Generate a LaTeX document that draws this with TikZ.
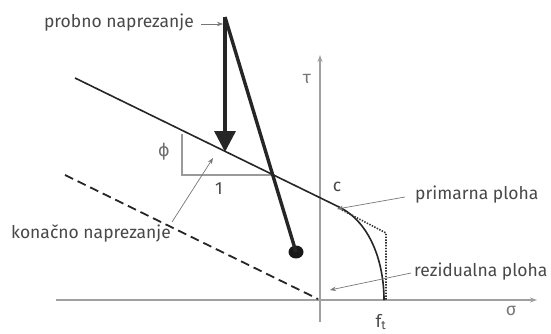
\documentclass[tikz,border=0pt]{standalone}
\usepackage{fontspec}
\setmainfont{Fira Sans}
\newfontfamily\dejavu{DejaVu Sans}
\usetikzlibrary{arrows.meta,shapes.geometric}
\definecolor{txt}{HTML}{484848}
\definecolor{axisgray}{HTML}{A0A0A0}
\definecolor{tri}{HTML}{9A9A9A}
\begin{document}
\begin{tikzpicture}[x=1pt,y=-1pt,
  lbl/.style={text=txt,font=\fontsize{17.5}{20}\selectfont,inner sep=0pt},
  axisline/.style={draw=axisgray,line width=1.2pt},
  pointer/.style={draw=txt!75,line width=0.7pt,-{Stealth[length=6pt,width=4.5pt]}},
  heavy/.style={line width=3.4pt,draw=black!85},
  envelope/.style={line width=1.6pt,draw=black!85}]
\useasboundingbox (0,0) rectangle (551,333);
% axes
\coordinate (xs) at (56,300);
\coordinate (xe) at (537,300);
\coordinate (ys) at (320,322);
\coordinate (ye) at (320,55);
\draw[axisline,-{Stealth[length=7pt,width=5pt]}] (xs) -- (xe);
\draw[axisline,-{Stealth[length=7pt,width=5pt]}] (ys) -- (ye);
\node[lbl,text=txt!75] (tau) at (307,79) {τ};
\node[lbl,text=txt!75] (sig) at (511,311) {σ};
\node[lbl] (ft) at (381,322) {f\textsubscript{t}};
% slope triangle
\coordinate (ta) at (182,134);
\coordinate (tb) at (182,175);
\coordinate (tc) at (272,175);
\draw[draw=tri,line width=1.4pt] (ta) -- (tb) -- (tc);
\node[lbl,text=txt!80] (phi) at (164,152) {\dejavu ϕ};
\node[lbl] (one) at (219,189) {1};
% envelopes
\coordinate (m0) at (75,78);
\coordinate (mc) at (339,207);
\coordinate (mf) at (384,300);
\draw[envelope] (m0) -- (mc) .. controls (370,222) and (384,262) .. (mf);
\coordinate (d1) at (342,210);
\coordinate (d2) at (386,233);
\coordinate (d3) at (386,300);
\draw[line width=1.6pt,draw=black!80,dash pattern=on 1.4pt off 1.4pt] (d1) -- (d2) -- (d3);
\coordinate (r0) at (65,175);
\coordinate (r1) at (318,299);
\draw[line width=1.8pt,draw=black!85,dash pattern=on 9pt off 5pt] (r0) -- (r1);
% stress path
\coordinate (top) at (225,17);
\coordinate (tip) at (225,152);
\node[ellipse,fill=black!90,minimum width=15pt,minimum height=13pt,inner sep=0pt] (dot) at (296,252) {};
\draw[heavy,-{Triangle[length=21pt,width=21pt]}] (top) -- (tip);
\draw[heavy] (top) -- (dot.center);
% labels
\node[lbl,anchor=east] (probno) at (194,23) {probno naprezanje};
\coordinate (p0) at (201,24);
\draw[pointer] (p0) -- (223,24);
\node[lbl,anchor=west] (konac) at (11,233) {konačno naprezanje};
\draw[pointer] (172,222) -- (213,158);
\node[lbl] (c) at (337,187) {c};
\node[lbl,anchor=west] (prim) at (415,195) {primarna ploha};
\draw[pointer] (405,197) -- (337,209);
\node[lbl,anchor=west] (rez) at (414,272) {rezidualna ploha};
\draw[pointer] (411,273) -- (330,290);
\end{tikzpicture}
\end{document}
